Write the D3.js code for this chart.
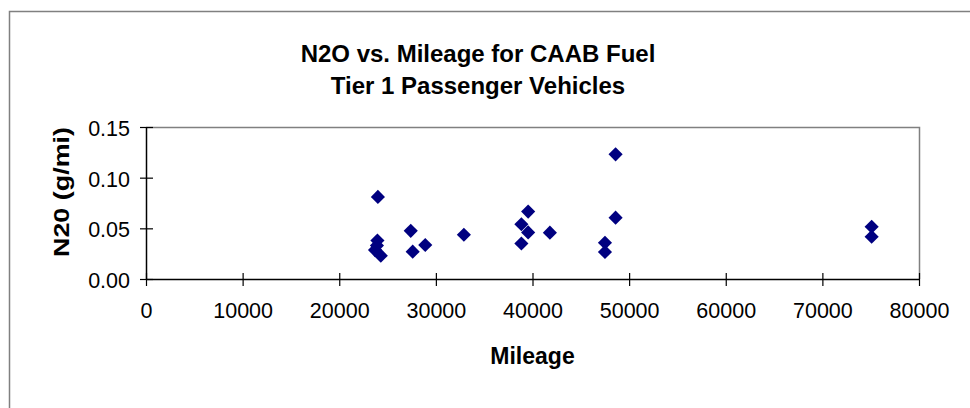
<!DOCTYPE html>
<html>
<head>
<meta charset="utf-8">
<script src="https://cdn.jsdelivr.net/npm/d3@7"></script>
<style>
  body { margin: 0; background: #fff; }
  text { font-family: Arial, "Liberation Sans", sans-serif; fill: #000; }
</style>
</head>
<body>
<svg id="chart" width="970" height="408"></svg>
<script>
// values
var mileage = [24000, 23950, 23900, 23700, 24300, 27400, 27600, 28900, 32900,
               38850, 39550, 39550, 38850, 41800, 47500, 47500, 48600, 48600,
               75100, 75100];
var n2o     = [0.081, 0.038, 0.033, 0.0285, 0.023, 0.0475, 0.027, 0.0335, 0.0437,
               0.054, 0.0665, 0.046, 0.035, 0.0457, 0.0358, 0.0266, 0.123, 0.0605,
               0.0516, 0.0417];
var xTicks = [0, 10000, 20000, 30000, 40000, 50000, 60000, 70000, 80000];
var yTicks = [0, 0.05, 0.10, 0.15];
var titleLines = ["N2O vs. Mileage for CAAB Fuel", "Tier 1 Passenger Vehicles"];

var svg = d3.select("#chart"),
    plot = {left: 146, right: 919, top: 127, bottom: 279},
    navy = "#000080";

var x = d3.scaleLinear().domain([0, 80000]).range([plot.left, plot.right]),
    y = d3.scaleLinear().domain([0, 0.15]).range([plot.bottom, plot.top]);

// outer chart frame (runs past the right and bottom edges)
svg.append("rect")
    .attr("x", 9.5).attr("y", 11.5)
    .attr("width", 1000).attr("height", 500)
    .attr("fill", "none").attr("stroke", "#808080").attr("stroke-width", 1.5);

// title
svg.selectAll("text.title")
    .data(titleLines)
    .enter().append("text")
    .attr("class", "title")
    .attr("x", 478)
    .attr("y", function(d, i) { return 62 + i * 32; })
    .attr("text-anchor", "middle")
    .attr("font-size", "24px")
    .attr("font-weight", "bold")
    .text(function(d) { return d; });

// plot frame: grey top and right
svg.append("path")
    .attr("d", "M" + plot.left + "," + (plot.top + 0.5) + "H" + (plot.right + 0.5) + "V" + plot.bottom)
    .attr("fill", "none").attr("stroke", "#808080").attr("stroke-width", 1.5);

// axes
var xAxis = d3.axisBottom(x).tickValues(xTicks).tickSize(0).tickPadding(24)
    .tickFormat(d3.format("d"));
var yAxis = d3.axisLeft(y).tickValues(yTicks).tickSize(0).tickPadding(16)
    .tickFormat(d3.format(".2f"));

var gx = svg.append("g").attr("transform", "translate(0," + plot.bottom + ")").call(xAxis);
var gy = svg.append("g").attr("transform", "translate(" + plot.left + ",0)").call(yAxis);

[gx, gy].forEach(function(g) {
    g.select(".domain").attr("stroke", "#000").attr("stroke-width", 1.5);
    g.selectAll("text").attr("font-size", "21.5px")
        .attr("font-family", "Arial, 'Liberation Sans', sans-serif").attr("fill", "#000");
});

// tick marks cross the axis lines
gx.selectAll(".tick").append("line")
    .attr("y1", -6).attr("y2", 7).attr("stroke", "#000").attr("stroke-width", 1.2);
gy.selectAll(".tick").append("line")
    .attr("x1", -6).attr("x2", 7).attr("stroke", "#000").attr("stroke-width", 1.2);
gy.selectAll(".tick text").attr("dy", "0.4em");

// axis titles
svg.append("text")
    .attr("x", (plot.left + plot.right) / 2)
    .attr("y", 364)
    .attr("text-anchor", "middle")
    .attr("font-size", "23px")
    .attr("font-weight", "bold")
    .text("Mileage");

svg.append("text")
    .attr("transform", "translate(69," + 192 + ") rotate(-90)")
    .attr("text-anchor", "middle")
    .attr("font-size", "22px")
    .attr("font-weight", "bold")
    .attr("textLength", 130)
    .attr("lengthAdjust", "spacingAndGlyphs")
    .text("N20 (g/mi)");

// points
var pts = mileage.map(function(m, i) { return {m: m, v: n2o[i]}; });
var diamond = d3.symbol().type(d3.symbolSquare).size(100);
svg.append("g").selectAll("path")
    .data(pts)
    .enter().append("path")
    .attr("d", diamond)
    .attr("transform", function(d) { return "translate(" + x(d.m) + "," + y(d.v) + ") rotate(45)"; })
    .attr("fill", navy);
</script>
</body>
</html>
